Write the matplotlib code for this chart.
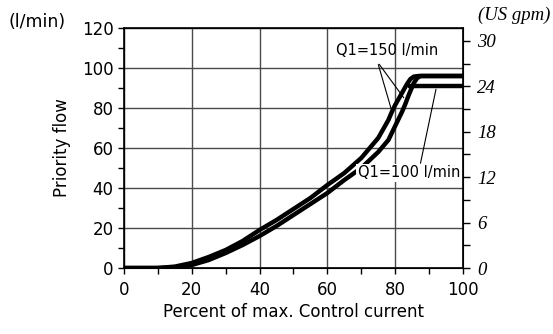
import matplotlib.pyplot as plt
from matplotlib.ticker import MultipleLocator

# percent of max control current vs priority flow (l/min)
x_up = [0, 10, 15, 20, 25, 30, 35, 40, 45, 50, 55, 60, 65, 70, 75, 78, 79, 80, 82, 83.5, 84.5, 85.5, 87, 100]
y_up = [0, 0, 0.7, 2.5, 5.5, 9, 13.5, 19, 24, 29.5, 35, 41.5, 47.5, 55, 65, 74, 78, 81.5, 87.5, 92, 94.5, 95.7, 96, 96]

x_down = [0, 10, 15, 20, 25, 30, 35, 40, 45, 50, 55, 60, 65, 70, 75, 78, 80, 82, 83, 84, 85.5, 86.5, 87.5, 100]
y_down = [0, 0, 0.3, 1.5, 4, 7.5, 11.5, 16, 21, 26.5, 32, 37.5, 44, 50, 58, 64, 71, 78, 82, 86.5, 92.5, 95, 96, 96]

x_q100 = [83.8, 100]
y_q100 = [91, 91]

lpm_per_gpm = 3.785

fig = plt.figure(figsize=(5.53, 3.34), dpi=100)
ax = fig.add_axes([0.2242, 0.1976, 0.6130, 0.7186])

ax.plot(x_up, y_up, color='black', lw=3.2, solid_capstyle='butt', zorder=3)
ax.plot(x_down, y_down, color='black', lw=3.2, solid_capstyle='butt', zorder=3)
ax.plot(x_q100, y_q100, color='black', lw=3.2, solid_capstyle='butt', zorder=3)

ax.set_xlim(0, 100)
ax.set_ylim(0, 120)
ax.xaxis.set_major_locator(MultipleLocator(20))
ax.xaxis.set_minor_locator(MultipleLocator(10))
ax.yaxis.set_major_locator(MultipleLocator(20))
ax.yaxis.set_minor_locator(MultipleLocator(10))
ax.tick_params(which='both', direction='out', labelsize=12, width=1, length=4)
ax.tick_params(axis='x', pad=5)
ax.grid(True, which='major', color='#4a4a4a', lw=1)
for s in ax.spines.values():
    s.set_linewidth(1.2)

ax.set_xlabel('Percent of max. Control current', fontsize=12, labelpad=3)
ax.set_ylabel('Priority flow', fontsize=12, labelpad=8)
fig.text(0.015, 0.935, '(l/min)', fontsize=12.5, va='center', ha='left')

ax2 = ax.twinx()
ax2.set_ylim(0, 120 / lpm_per_gpm)
ax2.yaxis.set_major_locator(MultipleLocator(6))
ax2.yaxis.set_minor_locator(MultipleLocator(3))
ax2.tick_params(which='both', direction='out', length=5, width=1, labelsize=13.5, pad=5)
for lbl in ax2.get_yticklabels():
    lbl.set_fontfamily('Liberation Serif')
    lbl.set_fontstyle('italic')
fig.text(0.995, 0.955, '(US gpm)', fontsize=13.5, family='Liberation Serif',
         style='italic', ha='right', va='center')

ax.text(77.6, 108.5, 'Q1=150 l/min', fontsize=10.5, ha='center', va='center', zorder=5)
ax.annotate('', xy=(79, 78.5), xytext=(74.8, 103),
            arrowprops=dict(arrowstyle='-', lw=0.8, color='black'))
ax.annotate('', xy=(83, 84), xytext=(74.8, 103),
            arrowprops=dict(arrowstyle='-', lw=0.8, color='black'))

ax.text(84, 47.5, 'Q1=100 l/min', fontsize=10.5, ha='center', va='center', zorder=5,
        bbox=dict(facecolor='white', edgecolor='none', pad=1))
ax.annotate('', xy=(92.2, 90.7), xytext=(87.3, 51),
            arrowprops=dict(arrowstyle='-', lw=0.8, color='black'))

fig.savefig('out.png', dpi=100)
